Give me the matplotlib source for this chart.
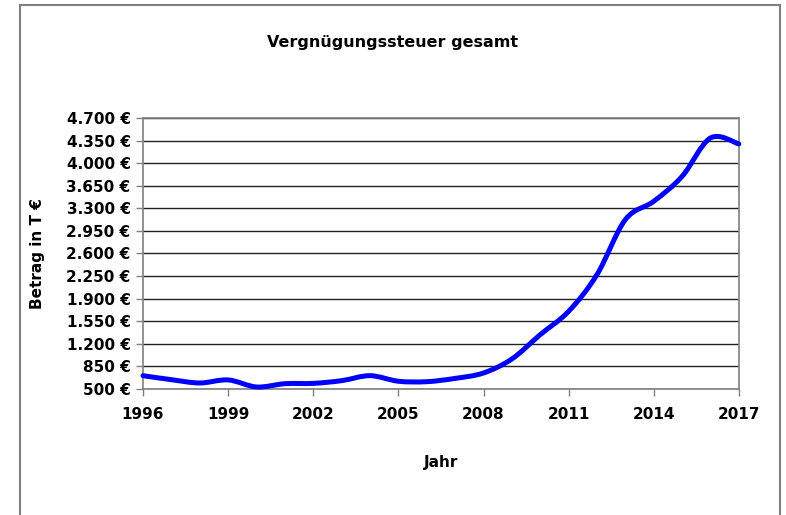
import numpy as np
import matplotlib.pyplot as plt
from matplotlib.path import Path
from matplotlib.patches import PathPatch, Rectangle

# Jahreswerte (T €)
jahre = [1996, 1997, 1998, 1999, 2000, 2001, 2002, 2003, 2004, 2005, 2006,
         2007, 2008, 2009, 2010, 2011, 2012, 2013, 2014, 2015, 2016, 2017]
betrag = [706, 644, 593, 640, 531, 582, 587, 629, 706, 620, 613,
          664, 748, 965, 1342, 1703, 2272, 3124, 3408, 3795, 4390, 4297]

y_ticks = [500, 850, 1200, 1550, 1900, 2250, 2600, 2950, 3300, 3650, 4000, 4350, 4700]
x_ticks = [1996, 1999, 2002, 2005, 2008, 2011, 2014, 2017]

plt.rcParams['font.family'] = 'DejaVu Sans'
plt.rcParams['font.weight'] = 'bold'

fig = plt.figure(figsize=(7.86, 5.15), dpi=100)
ax = fig.add_axes([0.182, 0.2447, 0.758, 0.5263])

# geglaettete Linie (wie Excel "Linie glaetten")
x = np.array(jahre, dtype=float)
y = np.array(betrag, dtype=float)
verts = [(x[0], y[0])]
codes = [Path.MOVETO]
n = len(x)
for i in range(n - 1):
    p0 = np.array([x[max(i - 1, 0)], y[max(i - 1, 0)]])
    p1 = np.array([x[i], y[i]])
    p2 = np.array([x[i + 1], y[i + 1]])
    p3 = np.array([x[min(i + 2, n - 1)], y[min(i + 2, n - 1)]])
    c1 = p1 + (p2 - p0) / 6
    c2 = p2 - (p3 - p1) / 6
    verts += [tuple(c1), tuple(c2), tuple(p2)]
    codes += [Path.CURVE4] * 3
ax.add_patch(PathPatch(Path(verts, codes), facecolor='none', edgecolor='#0000FF',
                       lw=3.6, capstyle='round', joinstyle='round', zorder=3,
                       clip_on=False))

ax.set_xlim(1996, 2017)
ax.set_ylim(500, 4700)
ax.set_xticks(x_ticks)
ax.set_yticks(y_ticks)
ax.set_yticklabels([f'{v:,}'.replace(',', '.') + ' €' for v in y_ticks])
ax.tick_params(labelsize=11, length=5, color='#808080', width=1, pad=4)
ax.tick_params(axis='x', pad=8)
ax.grid(axis='y', color='#222222', lw=1)
ax.set_axisbelow(True)
for s in ax.spines.values():
    s.set_color('#808080')
    s.set_linewidth(1.2)

ax.set_xlabel('Jahr', fontsize=11, fontweight='bold', labelpad=24)
ax.set_ylabel('Betrag in T €', fontsize=11, fontweight='bold', labelpad=15)
fig.text(0.5, 1 - 42 / 515, 'Vergnügungssteuer gesamt', ha='center', va='center',
         fontsize=11.5, fontweight='bold')

# Rahmen des Diagrammbereichs
fig.patches.append(Rectangle((20 / 786, -0.05), 760 / 786, 1.05 - 5 / 515,
                             transform=fig.transFigure, fill=False,
                             edgecolor='#808080', lw=1.5))

fig.savefig('out.png', dpi=100)
